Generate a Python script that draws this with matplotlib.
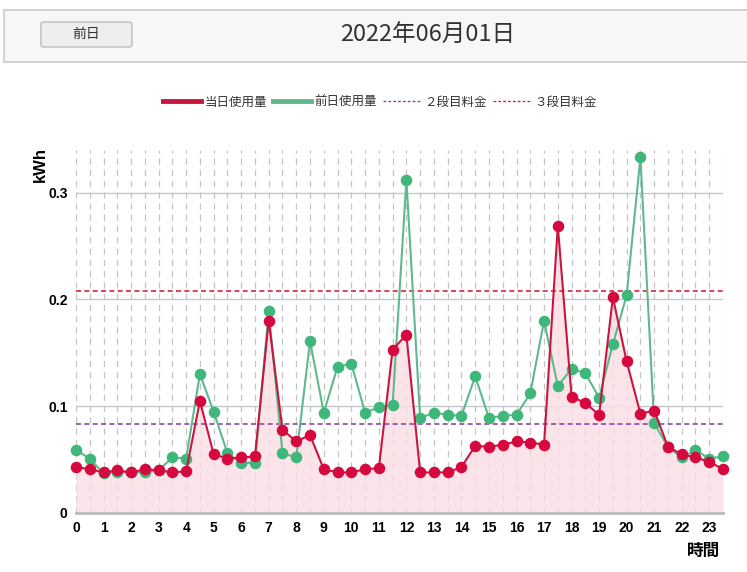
import matplotlib
matplotlib.use("Agg")
import matplotlib.pyplot as plt
from matplotlib.patches import FancyBboxPatch, Rectangle
from matplotlib.lines import Line2D

plt.rcParams['font.family'] = ['Noto Sans CJK JP', 'DejaVu Sans']

hours = [i * 0.5 for i in range(48)]
today = [0.043, 0.041, 0.038, 0.040, 0.038, 0.041, 0.040, 0.038, 0.039, 0.105,
         0.055, 0.051, 0.052, 0.053, 0.180, 0.078, 0.067, 0.073, 0.041, 0.038,
         0.038, 0.041, 0.042, 0.153, 0.167, 0.038, 0.038, 0.038, 0.043, 0.063,
         0.062, 0.064, 0.067, 0.066, 0.064, 0.269, 0.109, 0.103, 0.092, 0.202,
         0.142, 0.093, 0.096, 0.062, 0.055, 0.052, 0.048, 0.041]
prev = [0.059, 0.051, 0.037, 0.038, 0.038, 0.038, 0.040, 0.052, 0.051, 0.130,
        0.095, 0.056, 0.047, 0.047, 0.189, 0.056, 0.052, 0.161, 0.094, 0.137,
        0.140, 0.094, 0.099, 0.101, 0.312, 0.089, 0.094, 0.092, 0.091, 0.128,
        0.089, 0.091, 0.092, 0.112, 0.180, 0.119, 0.135, 0.131, 0.108, 0.158,
        0.204, 0.333, 0.084, 0.062, 0.052, 0.059, 0.051, 0.053]
tier2 = 0.083
tier3 = 0.208
xticks = list(range(24))
yticks = [0, 0.1, 0.2, 0.3]
ytick_labels = ['0', '0.1', '0.2', '0.3']
title = '2022年06月01日'
legend_labels = ['当日使用量', '前日使用量', '２段目料金', '３段目料金']

RED = '#d6093f'
RED_LINE = '#c8163f'
GREEN = '#3fb77a'
GREEN_LINE = '#5fb98c'
PURPLE = '#8e44ad'
TIER3 = '#e0203a'

W, H = 747, 572
fig = plt.figure(figsize=(W / 100, H / 100), dpi=100)

# header box
fig.patches.append(Rectangle((4 / W, 1 - 62 / H), 760 / W, 52 / H, transform=fig.transFigure,
                             facecolor='#f7f7f7', edgecolor='#cccccc', linewidth=1.2))
fig.patches.append(FancyBboxPatch((41 / W, 1 - 47 / H), 91 / W, 25 / H, transform=fig.transFigure,
                                  boxstyle='round,pad=0,rounding_size=0.004',
                                  facecolor='#eeeeee', edgecolor='#bbbbbb', linewidth=1))
fig.text(86 / W, 1 - 34 / H, '前日', ha='center', va='center', fontsize=10, color='#333333')
fig.text(428 / W, 1 - 35 / H, title, ha='center', va='center', fontsize=17, color='#333333')

ax = fig.add_axes([76 / W, 1 - 513 / H, 647 / W, 363 / H])
ax.set_xlim(0, 23.5)
ax.set_ylim(0, 0.34)

for h in hours:
    ax.axvline(h, color='#c4c4c4', linestyle=(0, (5, 4)), linewidth=0.9, zorder=0)
for yv in yticks[1:]:
    ax.axhline(yv, color='#c4c8cc', linewidth=1, zorder=0)

ax.fill_between(hours, today, 0, color='#fbdde5', alpha=0.8, zorder=1, linewidth=0)
ax.axhline(tier2, color=PURPLE, linestyle=(0, (3, 2)), linewidth=1.2, zorder=2)
ax.axhline(tier3, color=TIER3, linestyle=(0, (3, 2)), linewidth=1.2, zorder=2)
ax.plot(hours, prev, color=GREEN_LINE, linewidth=1.5, marker='o', markersize=7.3,
        markerfacecolor=GREEN, markeredgecolor=GREEN, zorder=3, clip_on=False)
ax.plot(hours, today, color=RED_LINE, linewidth=1.5, marker='o', markersize=7.3,
        markerfacecolor=RED, markeredgecolor=RED, zorder=4, clip_on=False)

for s in ['top', 'right', 'left']:
    ax.spines[s].set_visible(False)
ax.spines['bottom'].set_color('#bbbbbb')
ax.spines['bottom'].set_linewidth(2)
ax.spines['bottom'].set_zorder(5)

ax.set_xticks(xticks)
ax.set_xticklabels([str(x) for x in xticks], fontweight='bold', fontsize=10,
                   family=['Liberation Sans', 'DejaVu Sans'])
ax.set_yticks(yticks)
ax.set_yticklabels(ytick_labels, fontweight='bold', fontsize=10,
                   family=['Liberation Sans', 'DejaVu Sans'])
ax.tick_params(axis='both', length=0, pad=6)

fig.text(40 / W, 1 - 164 / H, 'kWh', rotation=90, ha='center', va='center',
         fontsize=12, fontweight='bold', family=['Liberation Sans', 'DejaVu Sans'])
fig.text(704 / W, 1 - 551 / H, '時間', ha='center', va='center',
         fontsize=12, fontweight='bold')

# legend
handles = [Line2D([], [], color=RED_LINE, linewidth=3.5),
           Line2D([], [], color=GREEN_LINE, linewidth=3.5),
           Line2D([], [], color=PURPLE, linewidth=1, linestyle=(0, (2, 1.5))),
           Line2D([], [], color=TIER3, linewidth=1, linestyle=(0, (2, 1.5)))]
leg = fig.legend(handles, legend_labels, loc='center', ncol=4,
                 bbox_to_anchor=(380 / W, 1 - 102 / H), frameon=False,
                 fontsize=9, handlelength=3.0, handletextpad=0.3, columnspacing=0.5)
for t in leg.get_texts():
    t.set_color('#333333')

fig.savefig('out.png', dpi=100)
